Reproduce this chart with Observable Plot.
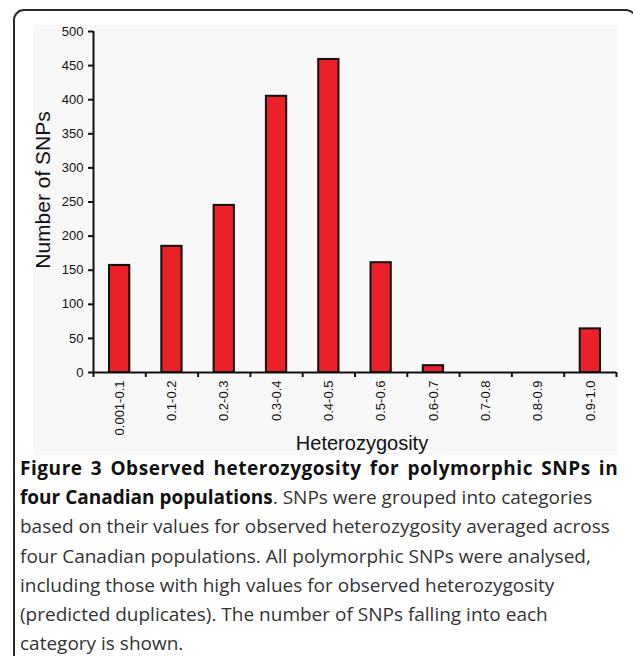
<!DOCTYPE html>
<html><head><meta charset="utf-8">
<script src="https://cdn.jsdelivr.net/npm/d3@7"></script>
<script src="https://cdn.jsdelivr.net/npm/@observablehq/plot@0.6"></script>
<style>
body{margin:0;width:633px;height:656px;overflow:hidden;background:#fff;position:relative;font-family:"Liberation Sans",Arial,sans-serif}
#frame{position:absolute;left:13px;top:9px;width:624px;height:700px;border:2px solid #2a2a2a;border-radius:11px;box-sizing:border-box}
#chart{position:absolute;left:33px;top:25px;}
#chart g[aria-label="y-axis tick label"], #chart g[aria-label="x-axis tick label"]{font-size:13px !important;fill:#111}
#caption{position:absolute;left:20px;top:454px;font-family:"Open Sans",sans-serif;font-size:19px;line-height:29.2px;color:#333;white-space:nowrap}
#caption b{color:#111}
#caption .l1{letter-spacing:0.55px;word-spacing:2.7px}
</style></head><body>
<div id="frame"></div>
<div id="chart"></div>
<div id="caption"><b class="l1">Figure 3 Observed heterozygosity for polymorphic SNPs in</b><br><b>four Canadian populations</b>. SNPs were grouped into categories<br>based on their values for observed heterozygosity averaged across<br>four Canadian populations. All polymorphic SNPs were analysed,<br>including those with high values for observed heterozygosity<br>(predicted duplicates). The number of SNPs falling into each<br>category is shown.</div>
<script>
const categories = ["0.001-0.1","0.1-0.2","0.2-0.3","0.3-0.4","0.4-0.5","0.5-0.6","0.6-0.7","0.7-0.8","0.8-0.9","0.9-1.0"];
const counts = [157, 185, 245, 405, 459, 161, 10, 0, 0, 64];
const yTicks = [0, 50, 100, 150, 200, 250, 300, 350, 400, 450, 500];
const yLabel = "Number of SNPs";
const xLabel = "Heterozygosity";

const data = categories.map((c, i) => ({i, c, n: counts[i]}));
const bounds = d3.range(categories.length + 1);
const centers = categories.map((c, i) => i + 0.5);

const plot = Plot.plot({
  width: 584, height: 430,
  marginLeft: 60, marginRight: 1, marginTop: 6, marginBottom: 83,
  style: {background: "#f8f8f8", fontFamily: "'Liberation Sans', Arial, sans-serif", fontSize: "13px", color: "#111", overflow: "visible"},
  x: {domain: [0, categories.length], axis: null},
  y: {domain: [0, 500], axis: null},
  marks: [
    Plot.rectY(data, {x1: "i", x2: d => d.i + 1, y: "n", insetLeft: 16, insetRight: 16, fill: "#ea2128", stroke: "#111", strokeWidth: 2}),
    Plot.ruleX([0], {stroke: "#111", strokeWidth: 2}),
    Plot.ruleY([0], {stroke: "#111", strokeWidth: 2}),
    Plot.axisY({ticks: yTicks, tickSize: 5, tickPadding: 5, strokeWidth: 2, label: null, fontSize: 13}),
    Plot.axisX({ticks: bounds, tickSize: 5, tickFormat: () => "", strokeWidth: 2, label: null}),
    Plot.axisX({ticks: centers, tickSize: 0, tickPadding: 8, tickRotate: -90, tickFormat: d => categories[Math.floor(d)], label: null, fontSize: 13}),
    Plot.text([yLabel], {frameAnchor: "left", textAnchor: "middle", lineAnchor: "middle", rotate: -90, dx: -50, dy: -12, fontSize: 21}),
    Plot.text([xLabel], {frameAnchor: "bottom", textAnchor: "middle", lineAnchor: "middle", dx: 7, dy: 71, fontSize: 20})
  ]
});
document.getElementById("chart").appendChild(plot);
</script>
</body></html>
